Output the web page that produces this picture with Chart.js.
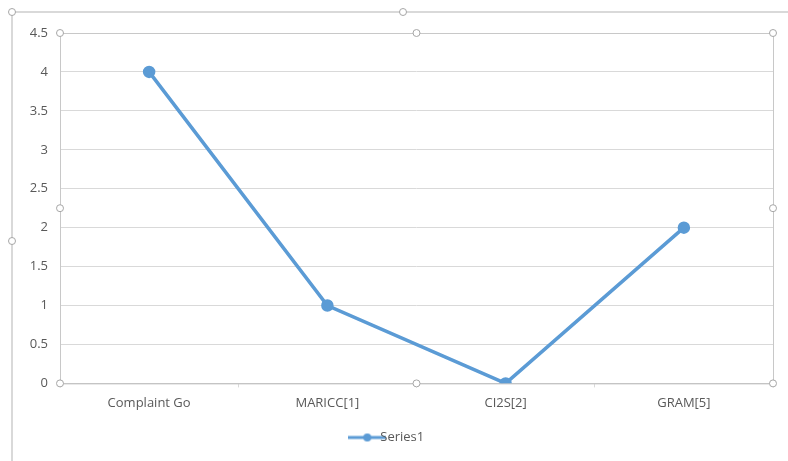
<!DOCTYPE html>
<html><head><meta charset="utf-8">
<script src="https://cdn.jsdelivr.net/npm/chart.js@4.4.1/dist/chart.umd.min.js"></script>
<style>html,body{margin:0;padding:0;background:#fff;}#wrap{width:788px;height:461px;position:relative;}</style>
</head><body><div id="wrap"><canvas id="c" width="788" height="461"></canvas></div>
<script>
const categories = ["Complaint Go", "MARICC[1]", "CI2S[2]", "GRAM[5]"];
const series1 = [4, 1, 0, 2];
const seriesName = "Series1";
const yTicks = [0, 0.5, 1, 1.5, 2, 2.5, 3, 3.5, 4, 4.5];

const BLUE = "#5b9bd5";
const FONT = { family: "Open Sans", size: 13 };
const legendIcon = document.createElement("canvas");
legendIcon.width = 38; legendIcon.height = 10;
(function(){const g=legendIcon.getContext("2d");g.strokeStyle=BLUE;g.lineWidth=3;g.beginPath();g.moveTo(0,5);g.lineTo(38,5);g.stroke();g.fillStyle=BLUE;g.beginPath();g.arc(19,5,4,0,Math.PI*2);g.fill();})();

const framePlugin = {
  id: "frame",
  beforeDraw(chart){
    const ctx = chart.ctx;
    ctx.save();
    ctx.strokeStyle = "#d9d9d9"; ctx.lineWidth = 2;
    ctx.beginPath(); ctx.moveTo(12, 461); ctx.lineTo(12, 12); ctx.lineTo(788, 12); ctx.stroke();
    ctx.restore();
  },
  afterDraw(chart){
    const ctx = chart.ctx, a = chart.chartArea;
    ctx.save();
    ctx.strokeStyle = "#c8c8c8"; ctx.lineWidth = 1;
    ctx.strokeRect(a.left+0.5, a.top+0.5, a.right-a.left, a.bottom-a.top);
    const handle=(x,y)=>{ctx.fillStyle="#fff";ctx.strokeStyle="#a6a6a6";ctx.beginPath();ctx.arc(x,y,3.5,0,Math.PI*2);ctx.fill();ctx.stroke();};
    const mx=(a.left+a.right)/2, my=(a.top+a.bottom)/2;
    [[a.left,a.top],[mx,a.top],[a.right,a.top],[a.left,my],[a.right,my],[a.left,a.bottom],[mx,a.bottom],[a.right,a.bottom]].forEach(p=>handle(p[0],p[1]));
    [[12,12],[403,12],[12,241]].forEach(p=>handle(p[0],p[1]));
    ctx.restore();
  }
};

new Chart(document.getElementById("c"), {
  type: "line",
  data: { labels: categories, datasets: [{
    label: seriesName, data: series1, borderColor: BLUE, backgroundColor: BLUE,
    borderWidth: 3.5, pointRadius: 4.5, pointHoverRadius: 4.5, tension: 0, fill: false
  }]},
  options: {
    responsive: false, animation: false,
    layout: { padding: { left: 12, right: 15, top: 33, bottom: 7 } },
    plugins: {
      tooltip: { enabled: false },
      legend: { position: "bottom", labels: {
        font: FONT, color: "#595959", usePointStyle: true, padding: 12,
        generateLabels: (chart) => chart.data.datasets.map((d,i)=>({text: d.label, pointStyle: legendIcon, fontColor:"#595959", datasetIndex:i, lineWidth:0, strokeStyle:"transparent", fillStyle:"transparent"}))
      }}
    },
    scales: {
      x: { offset: true,
        grid: { display: true, drawOnChartArea: false, offset: true, tickLength: 4, color: "#d9d9d9" },
        border: { color: "#bfbfbf" },
        ticks: { font: FONT, color: "#595959", padding: 8, maxRotation: 0 } },
      y: { min: 0, max: 4.5, afterFit: s => { s.width = 48; },
        afterBuildTicks: s => { s.ticks = yTicks.map(v => ({ value: v })); },
        grid: { color: "#d9d9d9", drawTicks: false },
        border: { display: false },
        ticks: { font: FONT, color: "#595959", padding: 12, callback: v => String(v) } }
    }
  },
  plugins: [framePlugin]
});
</script></body></html>
